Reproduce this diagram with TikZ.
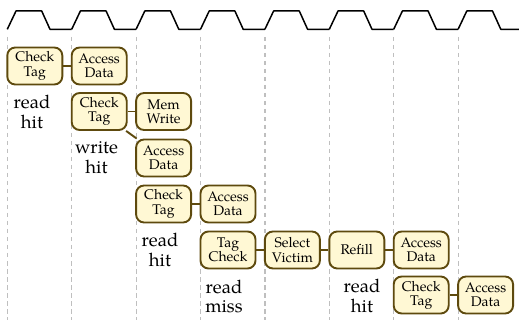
\documentclass[tikz,border=0pt]{standalone}
\usepackage{fontspec}
\setmainfont{TeX Gyre Pagella}
\begin{document}
\begin{tikzpicture}[x=1pt,y=-1pt,
  stage/.style={draw=stageline,fill=stagefill,line width=1.9pt,rounded corners=8pt,
    minimum width=55pt,minimum height=37pt,inner sep=1pt,align=center,
    font=\fontsize{14}{14.2}\selectfont},
  link/.style={draw=stageline,line width=1.9pt},
  caption/.style={align=center,inner sep=0pt,font=\fontsize{18.5}{19.5}\selectfont},
  tick/.style={draw=gray!50,line width=1.2pt,dash pattern=on 4.5pt off 3.5pt},
  clk/.style={draw=black,line width=1.5pt,line join=round}]
\definecolor{stageline}{HTML}{5E4A0E}
\definecolor{stagefill}{HTML}{FFF8D4}
\useasboundingbox (0,0) rectangle (519,320);
% clock waveform and cycle boundaries
\foreach \k in {0,...,7}{
  \pgfmathsetmacro{\xs}{7.3+64.4*\k}
  \draw[clk] (\xs,29.3) -- (\xs+8.7,11) -- (\xs+34.4,11) -- (\xs+42.7,29.3) -- (\xs+64.4,29.3);
  \draw[tick] (\xs,37) -- (\xs,320);
}
% pipeline stages
\def\cx#1{7.3+64.4*#1+27.5}
\node[stage] (ct1) at ({\cx{0}},66) {Check\\Tag};
\node[stage] (ad1) at ({\cx{1}},66) {Access\\Data};
\node[stage] (ct2) at ({\cx{1}},111.5) {Check\\Tag};
\node[stage] (mw2) at ({\cx{2}},111.5) {Mem\\Write};
\node[stage] (ad3) at ({\cx{2}},158) {Access\\Data};
\node[stage] (ct4) at ({\cx{2}},204) {Check\\Tag};
\node[stage] (ad4) at ({\cx{3}},204) {Access\\Data};
\node[stage] (tc5) at ({\cx{3}},250) {Tag\\Check};
\node[stage] (sv5) at ({\cx{4}},250) {Select\\Victim};
\node[stage] (rf5) at ({\cx{5}},250) {Refill};
\node[stage] (ad5) at ({\cx{6}},250) {Access\\Data};
\node[stage] (ct6) at ({\cx{6}},295) {Check\\Tag};
\node[stage] (ad6) at ({\cx{7}},295) {Access\\Data};
% links between stages
\draw[link] (ct1) -- (ad1);
\draw[link] (ct2) -- (mw2);
\draw[link] (ct2) -- (ad3);
\draw[link] (ct4) -- (ad4);
\draw[link] (tc5) -- (sv5);
\draw[link] (sv5) -- (rf5);
\draw[link] (rf5) -- (ad5);
\draw[link] (ct6) -- (ad6);
% access kinds
\node[caption] (l1) at (32,112) {read\\hit};
\node[caption] (l2) at (96.5,157.5) {write\\hit};
\node[caption] (l3) at (160,250) {read\\hit};
\node[caption] (l4) at (224,296.5) {read\\miss};
\node[caption] (l5) at (362,296) {read\\hit};
\end{tikzpicture}
\end{document}
